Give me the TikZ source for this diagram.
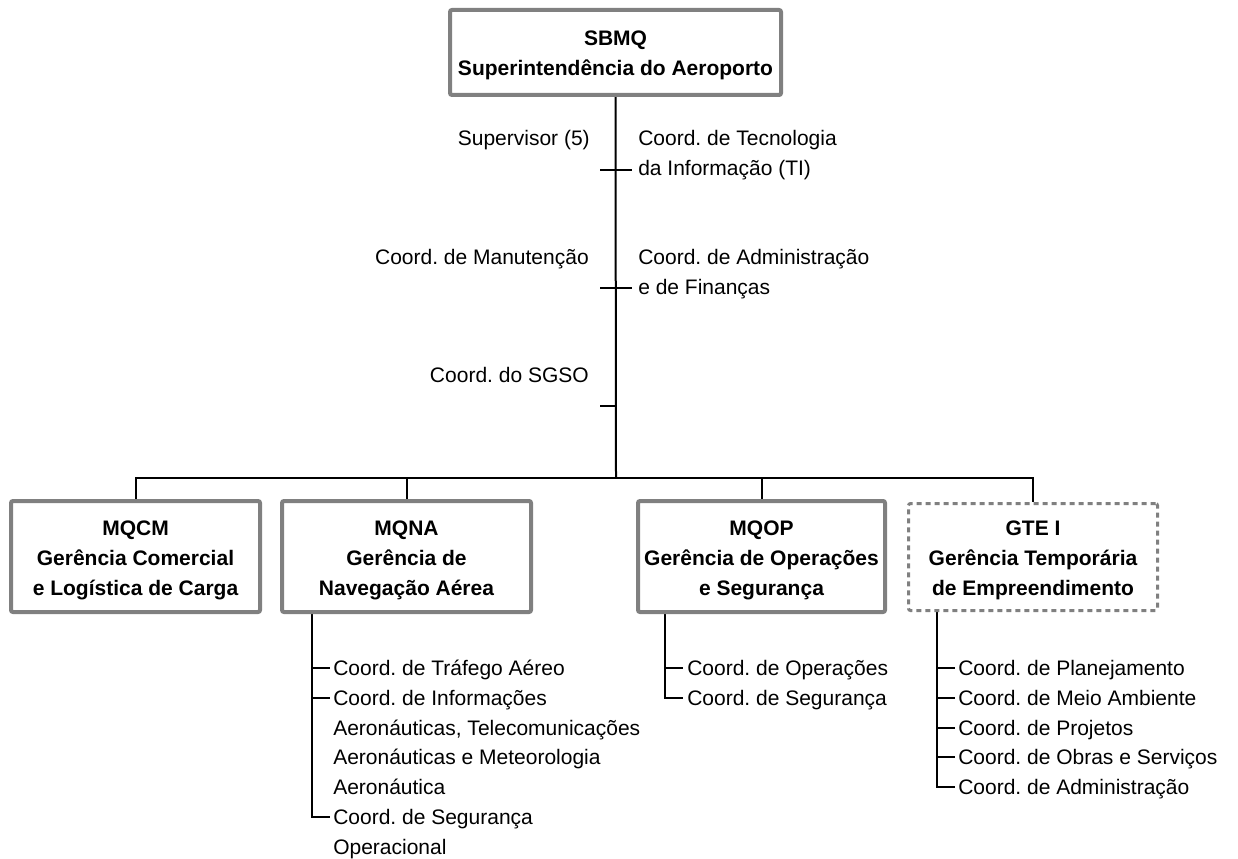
\documentclass[tikz,border=0pt]{standalone}
\usepackage{fontspec}
\setmainfont{Liberation Sans}
\usetikzlibrary{calc}
\pgfdeclarelayer{bg}
\pgfsetlayers{bg,main}
\definecolor{boxgray}{HTML}{808080}
\frenchspacing
\newcommand\stackL[1]{\begin{tabular}[t]{@{}l@{}}#1\end{tabular}}
\newcommand\stackC[1]{\begin{tabular}{@{}c@{}}\rule{0pt}{19.5pt}#1\end{tabular}}
\tikzset{
  txt/.style={font=\fontsize{15.75pt}{22.3pt}\selectfont, inner sep=0pt},
  lbl/.style={txt, anchor=base west},
  lblr/.style={txt, anchor=base east},
  orgbox/.style={draw=boxgray, line width=3pt, fill=white, rounded corners=1.5pt,
    inner sep=0pt, font=\fontsize{15.75pt}{22.5pt}\selectfont\bfseries,
    minimum width=186.75pt, minimum height=83.25pt},
  tmpbox/.style={orgbox, line width=2.25pt, dash pattern=on 3.75pt off 3pt,
    minimum height=80.25pt},
  conn/.style={line width=1.5pt, black}
}
\begin{document}
\frenchspacing
\begin{tikzpicture}[x=0.75pt,y=-0.75pt]
\useasboundingbox (0,0) rectangle (1238,859);

% boxes
\node[orgbox, minimum width=248.25pt, minimum height=63.75pt] (sbmq) at (615.5,52.5)
  {\stackC{SBMQ\\Superintendência do Aeroporto}};
\node[orgbox] (mqcm) at (135.5,556.5) {\stackC{MQCM\\Gerência Comercial\\e Logística de Carga}};
\node[orgbox] (mqna) at (406.5,556.5) {\stackC{MQNA\\Gerência de\\Navegação Aérea}};
\node[orgbox, minimum width=185.25pt] (mqop) at (761.5,556.5) {\stackC{MQOP\\Gerência de Operações\\e Segurança}};
\node[tmpbox] (gte) at (1033,557) {\stackC{GTE I\\Gerência Temporária\\de Empreendimento}};

% labels along the main line
\node[lblr] (sup) at (590,145.5) {Supervisor (5)};
\node[lbl] (ti) at (638,145.5) {\stackL{Coord. de Tecnologia\\da Informação (TI)}};
\node[lblr] (man) at (589,264.5) {Coord. de Manutenção};
\node[lbl] (adm) at (638,264.5) {\stackL{Coord. de Administração\\e de Finanças}};
\node[lblr] (sgso) at (589,382.5) {Coord. do SGSO};

% coordinates
\coordinate (bus) at (616,478);
\coordinate (t1l) at (600,170); \coordinate (t1r) at (632,170);
\coordinate (t2l) at (600,288); \coordinate (t2r) at (632,288);
\coordinate (t3l) at (600,406); \coordinate (t3r) at (616,406);

% MQNA list
\coordinate (na) at (312,612);
\coordinate (na1) at (330,668);
\coordinate (na2) at (330,698);
\coordinate (na3) at (330,817);
\node[lbl] (na1t) at (333,675.5) {Coord. de Tráfego Aéreo};
\node[lbl] (na2t) at (333,705.5) {\stackL{Coord. de Informações\\Aeronáuticas, Telecomunicações\\Aeronáuticas e Meteorologia\\Aeronáutica}};
\node[lbl] (na3t) at (333,824.5) {\stackL{Coord. de Segurança\\Operacional}};

% MQOP list
\coordinate (op) at (665,612);
\coordinate (op1) at (683,668);
\coordinate (op2) at (683,698);
\node[lbl] (op1t) at (687,675.5) {Coord. de Operações};
\node[lbl] (op2t) at (687,705.5) {Coord. de Segurança};

% GTE list
\coordinate (gt) at (937,611);
\coordinate (gt1) at (955,668);
\coordinate (gt2) at (955,698);
\coordinate (gt3) at (955,728);
\coordinate (gt4) at (955,757);
\coordinate (gt5) at (955,787);
\node[lbl] (gt1t) at (958,675.5) {Coord. de Planejamento};
\node[lbl] (gt2t) at (958,705.5) {Coord. de Meio Ambiente};
\node[lbl] (gt3t) at (958,735.5) {Coord. de Projetos};
\node[lbl] (gt4t) at (958,764.5) {Coord. de Obras e Serviços};
\node[lbl] (gt5t) at (958,794.5) {Coord. de Administração};

\begin{pgfonlayer}{bg}
  \draw[conn] (sbmq.south) -- (bus);
  \draw[conn] (mqcm.north) |- (bus) -| (gte.north);
  \draw[conn] (mqna.north) -- (mqna.north |- bus);
  \draw[conn] (mqop.north) -- (mqop.north |- bus);
  \draw[conn] (t1l) -- (t1r);
  \draw[conn] (t2l) -- (t2r);
  \draw[conn] (t3l) -- (t3r);
  \draw[conn] (na) |- (na1);
  \draw[conn] (na) |- (na2);
  \draw[conn] (na) |- (na3);
  \draw[conn] (op) |- (op1);
  \draw[conn] (op) |- (op2);
  \draw[conn] (gt) |- (gt1);
  \draw[conn] (gt) |- (gt2);
  \draw[conn] (gt) |- (gt3);
  \draw[conn] (gt) |- (gt4);
  \draw[conn] (gt) |- (gt5);
\end{pgfonlayer}
\end{tikzpicture}
\end{document}
